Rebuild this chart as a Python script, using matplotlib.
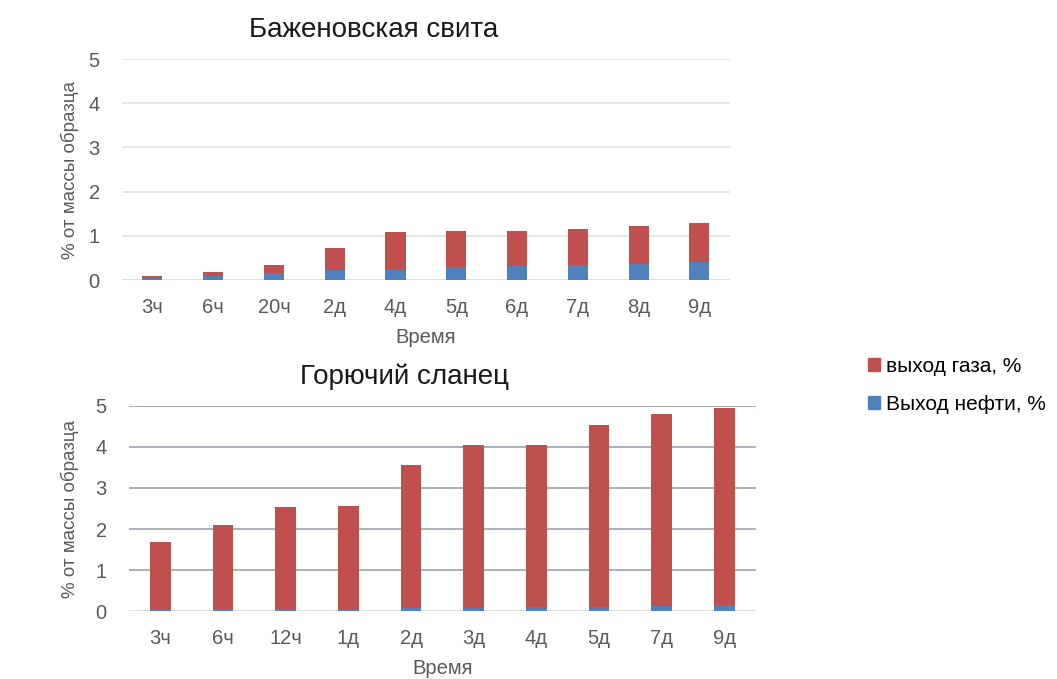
import matplotlib.pyplot as plt
from matplotlib.patches import Patch

plt.rcParams['font.family'] = ['Liberation Sans', 'DejaVu Sans']

## Data ---------------------------------------------

bazh_labels = ["3ч", "6ч", "20ч", "2д", "4д", "5д", "6д", "7д", "8д", "9д"]
bazh_oil    = [0.04, 0.08, 0.16, 0.23, 0.26, 0.29, 0.32, 0.33, 0.37, 0.40]
bazh_total  = [0.08, 0.19, 0.35, 0.72, 1.08, 1.12, 1.12, 1.15, 1.23, 1.30]
bazh_gas    = [t - o for t, o in zip(bazh_total, bazh_oil)]

slan_labels = ["3ч", "6ч", "12ч", "1д", "2д", "3д", "4д", "5д", "7д", "9д"]
slan_oil    = [0.02, 0.04, 0.04, 0.06, 0.08, 0.08, 0.10, 0.11, 0.12, 0.14]
slan_total  = [1.69, 2.10, 2.53, 2.55, 3.57, 4.06, 4.06, 4.53, 4.81, 4.94]
slan_gas    = [t - o for t, o in zip(slan_total, slan_oil)]

RED  = "#C0504D"
BLUE = "#4F81BD"
TXT  = "#595959"

fig = plt.figure(figsize=(10.57, 6.79), dpi=100)
ax1 = fig.add_axes([0.1154, 0.5876, 0.575, 0.3255])
ax2 = fig.add_axes([0.1220, 0.1001, 0.593, 0.3020])

def draw(ax, labels, oil, gas, title, gridcol, title_x, ylab_x):
    x = range(len(labels))
    ax.bar(x, oil, width=0.33, color=BLUE, zorder=3)
    ax.bar(x, gas, width=0.33, bottom=oil, color=RED, zorder=3)
    ax.set_xlim(-0.5, len(labels) - 0.5)
    ax.set_ylim(0, 5)
    ax.set_yticks(range(6))
    ax.set_xticks(list(x))
    ax.set_xticklabels(labels)
    for v in range(1, 6):
        ax.axhline(v, color=gridcol, lw=1.2, zorder=1)
    ax.axhline(0, color="#D9D9D9", lw=1.2, zorder=1)
    for s in ax.spines.values():
        s.set_visible(False)
    ax.tick_params(length=0, labelsize=14.5, colors=TXT)
    ax.tick_params(axis='x', pad=13)
    ax.tick_params(axis='y', pad=16)
    ax.set_title(title, fontsize=20, color="#1a1a1a", pad=16, x=title_x)
    ax.set_xlabel("Время", fontsize=14.5, color=TXT, labelpad=8)
    ax.set_ylabel("% от массы образца", fontsize=13.5, color=TXT)
    ax.yaxis.set_label_coords(ylab_x, 0.5)

draw(ax1, bazh_labels, bazh_oil, bazh_gas, "Баженовская свита", "#E3E3E3", 0.414, -0.071)
draw(ax2, slan_labels, slan_oil, slan_gas, "Горючий сланец", "#9AA3AD", 0.44, -0.080)

handles = [Patch(color=RED, label="выход газа, %"), Patch(color=BLUE, label="Выход нефти, %")]
fig.legend(handles=handles, loc="upper left", bbox_to_anchor=(0.803, 0.502),
           frameon=False, fontsize=15, handlelength=0.6, handleheight=0.6,
           handletextpad=0.3, labelspacing=0.9)

fig.savefig("out.png", dpi=100)
